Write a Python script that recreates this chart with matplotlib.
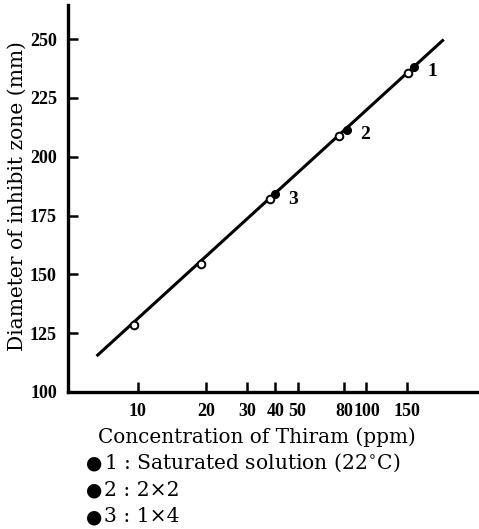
import numpy as np
import matplotlib.pyplot as plt
from matplotlib.ticker import FixedLocator, NullLocator

# valores
conc_aberto = [9.7, 19, 38, 76, 152]
diam_aberto = [128.5, 154.5, 182, 209, 235.8]
conc_cheio = [40, 82, 161]
diam_cheio = [184, 211.4, 238.3]
rotulos_cheio = ['3', '2', '1']
linha_x = [6.7, 215]
linha_y = [115.7, 249.4]
xticks = [10, 20, 30, 40, 50, 80, 100, 150]
yticks = [100, 125, 150, 175, 200, 225, 250]
legenda = ['1 : Saturated solution (22$^{\\circ}$C)', '2 : 2\u00d72', '3 : 1\u00d74']

plt.rcParams['font.family'] = ['Liberation Serif', 'DejaVu Serif']
fonte_texto = ['DejaVu Serif']

fig = plt.figure(figsize=(4.79, 5.29), dpi=100)
ax = fig.add_axes([68/479, 137/529, 1 - 68/479, (392-5)/529])

ax.set_xscale('log')
ax.set_xlim(4.97, 310)
ax.set_ylim(100, 264.5)

ax.plot(linha_x, linha_y, color='black', lw=2.2, zorder=2)
ax.plot(conc_aberto, diam_aberto, 'o', ms=5.5, mfc='white', mec='black', mew=1.4, zorder=3)
ax.plot(conc_cheio, diam_cheio, 'o', ms=5.5, color='black', zorder=3)
for x, y, t in zip(conc_cheio, diam_cheio, rotulos_cheio):
    ax.text(x * 1.2, y - 2, t, fontsize=14, fontweight='bold', va='center', ha='center')

for s in ['top', 'right']:
    ax.spines[s].set_visible(False)
for s in ['left', 'bottom']:
    ax.spines[s].set_linewidth(2.4)

ax.xaxis.set_major_locator(FixedLocator(xticks))
ax.xaxis.set_minor_locator(NullLocator())
ax.set_xticklabels([str(v) for v in xticks])
ax.set_yticks(yticks)
ax.tick_params(direction='in', length=7, width=1.8, labelsize=13, pad=8)
for lab in ax.get_xticklabels() + ax.get_yticklabels():
    lab.set_fontweight('bold')

fig.text(17/479, 1 - 196/529, 'Diameter of inhibit zone (mm)', fontsize=14.6, family=fonte_texto,
         rotation=90, ha='center', va='center')
fig.text(257/479, 1 - 437/529, 'Concentration of Thiram (ppm)', fontsize=14.4, family=fonte_texto,
         ha='center', va='center')
for i, t in enumerate(legenda):
    y = 1 - (463 + i * 27) / 529
    fig.text(94/479, y, '\u25cf', fontsize=13.5, family=fonte_texto, ha='center', va='center')
    fig.text(104/479, y, t, fontsize=14.6, family=fonte_texto, ha='left', va='center')

fig.savefig('out.png', dpi=100)
